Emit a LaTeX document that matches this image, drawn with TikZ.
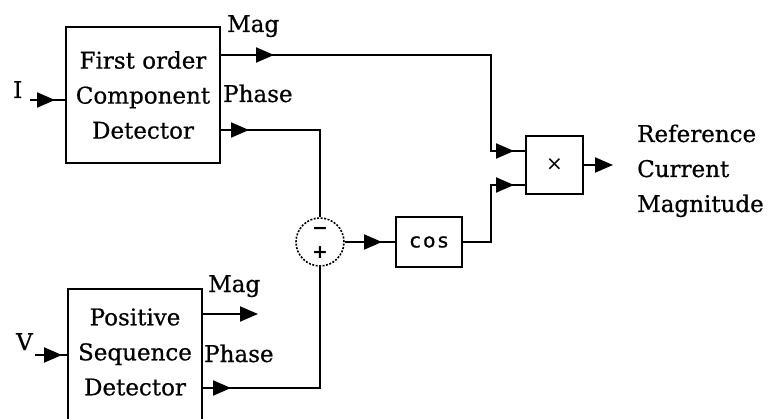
\documentclass[tikz,border=0pt]{standalone}
\usepackage{fontspec}
\setmainfont{DejaVu Serif}[FakeBold=0.6]
\newfontfamily\sansfam{DejaVu Sans}
\usetikzlibrary{arrows.meta,decorations.markings}

\begin{document}
\begin{tikzpicture}[
        x=1pt, y=-1pt,
        block/.style={rectangle, draw, line width=2pt, inner sep=0pt, align=center, font=\fontsize{23}{35}\selectfont},
        blocktext/.style={inner sep=0pt, align=center, font=\fontsize{23}{35}\selectfont},
        wire/.style={draw, line width=2pt},
        port/.style={postaction={decorate, decoration={markings, mark=at position #1 with {\arrow{Triangle[length=18pt,width=15pt]}}}}},
        tip/.style={-{Triangle[length=18pt,width=15pt]}},
        lbl/.style={inner sep=0pt, anchor=base west, font=\fontsize{23}{35}\selectfont}
    ]
        \fill[white] (0,0) rectangle (775,419);
        \clip (0,0) rectangle (775,419);

        % blocks
        \node [block, minimum width=154pt, minimum height=136pt] (fcd) at (143,95) {First order\\Component\\Detector};
        \node [block, minimum width=134pt, minimum height=150pt, anchor=north] (psd) at (135,288) {};
        \node [blocktext] (psdtext) at (135,352) {Positive\\Sequence\\Detector};
        \node [circle, draw, dash pattern=on 2pt off 1.5pt, line width=1.6pt, minimum size=48pt, inner sep=0pt] (sum) at (320,242) {};
        \node [inner sep=0pt, font=\sansfam\bfseries\fontsize{19}{19}\selectfont] (minus) at ([yshift=11pt]sum.center) {−};
        \node [inner sep=0pt, font=\sansfam\bfseries\fontsize{19}{19}\selectfont] (plus) at ([yshift=-11pt]sum.center) {+};
        \node [block, minimum width=66pt, minimum height=50pt, font=\sansfam\fontsize{20}{20}\selectfont\addfontfeature{LetterSpace=12,FakeBold=0.8}] (cosb) at (429,242) {cos};
        \node [block, minimum width=57pt, minimum height=58pt, font=\sansfam\fontsize{20}{20}\selectfont] (mult) at (554.5,165) {×};

        % port points
        \coordinate (iin) at (30,100);
        \coordinate (vin) at (35,355);
        \coordinate (fcdmag) at (fcd.east |- 0,55);
        \coordinate (fcdph) at (fcd.east |- 0,130);
        \coordinate (psdmag) at (psd.east |- 0,314);
        \coordinate (psdph) at (psd.east |- 0,388);
        \coordinate (psdmagend) at ([xshift=55pt]psdmag);
        \coordinate (multin1) at (mult.west |- 0,151);
        \coordinate (multin2) at (mult.west |- 0,185);
        \coordinate (multout) at ([xshift=29pt]mult.east);

        % labels
        \node [lbl] (ilab) at (13,98) {I};
        \node [lbl] (vlab) at (16,350) {V};
        \node [lbl] (magtop) at (227,32) {Mag};
        \node [lbl] (phtop) at (223,102) {Phase};
        \node [lbl] (magbot) at (208,292) {Mag};
        \node [lbl] (phbot) at (204,362) {Phase};
        \node [lbl, align=left] (outlab) at (637,212) {Reference\\Current\\Magnitude};

        % signals
        \draw [wire, port=25pt] (iin) -- (iin -| fcd.west);
        \draw [wire, port=27pt] (vin) -- (vin -| psd.west);
        \draw [wire, port=53pt, port=-11pt] (fcdmag) -| ([xshift=-34pt]multin1) -- (multin1);
        \draw [wire, port=28pt] (fcdph) -| (sum.north);
        \draw [wire, port=28pt] (psdph) -| (sum.south);
        \draw [wire, tip] (psdmag) -- (psdmagend);
        \draw [wire, port=-13pt] (sum.east) -- (cosb.west);
        \draw [wire, port=-11pt] (cosb.east) -| ([xshift=-34pt]multin2) -- (multin2);
        \draw [wire, tip] (mult.east) -- (multout);
    \end{tikzpicture}
\end{document}
